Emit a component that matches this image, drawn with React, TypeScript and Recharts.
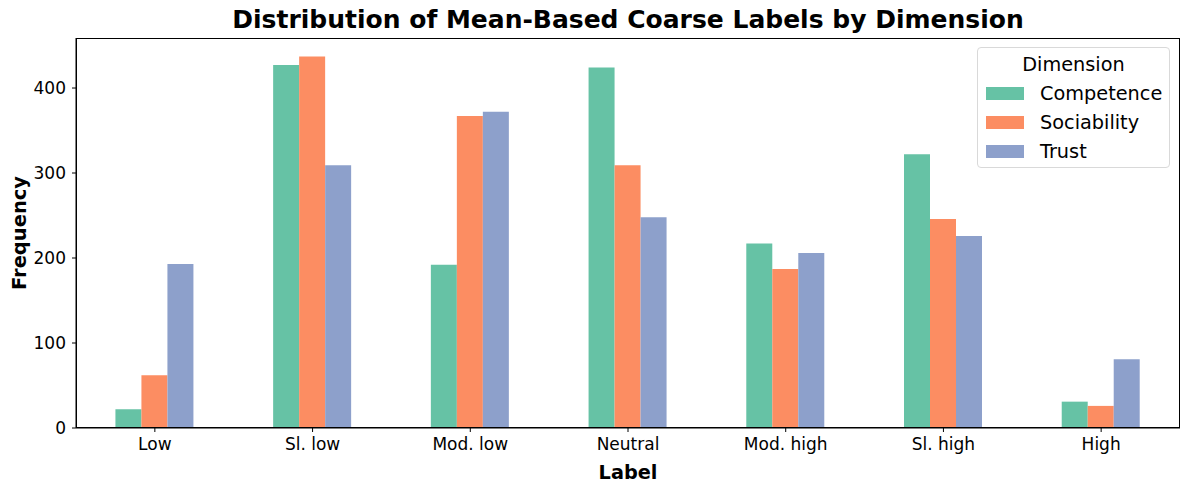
import React from "react";
import { BarChart, Bar, XAxis, YAxis } from "recharts";

const labels = ["Low", "Sl. low", "Mod. low", "Neutral", "Mod. high", "Sl. high", "High"];
const competence = [22, 427, 192, 424, 217, 322, 31];
const sociability = [62, 437, 367, 309, 187, 246, 26];
const trust = [193, 309, 372, 248, 206, 226, 81];
const yTicks = [0, 100, 200, 300, 400];

const SERIES = [
  { key: "Competence", color: "#66c2a5" },
  { key: "Sociability", color: "#fc8d62" },
  { key: "Trust", color: "#8da0cb" },
];

const data = labels.map((name, i) => ({
  name,
  Competence: competence[i],
  Sociability: sociability[i],
  Trust: trust[i],
}));

const FONT = "'DejaVu Sans', sans-serif";
const yMax = Math.max(...competence, ...sociability, ...trust) * 1.05;

// plot area in page pixels
const PLOT = { left: 76, top: 38, right: 1180, bottom: 428 };

function LegendBox() {
  return (
    <div
      style={{
        position: "absolute",
        left: 977,
        top: 47,
        width: 193,
        height: 121,
        border: "1px solid #d9d9d9",
        borderRadius: 4,
        background: "rgba(255,255,255,0.8)",
        fontFamily: FONT,
        boxSizing: "border-box",
        paddingTop: 4,
      }}
    >
      <div style={{ textAlign: "center", fontSize: 19.3, color: "#000", height: 27, lineHeight: "26px" }}>Dimension</div>
      {SERIES.map((s) => (
        <div key={s.key} style={{ display: "flex", alignItems: "center", height: 29, paddingLeft: 8 }}>
          <span style={{ width: 38, height: 13, background: s.color, display: "inline-block", marginRight: 16, flex: "none" }} />
          <span style={{ fontSize: 19.3, color: "#000", lineHeight: "29px" }}>{s.key}</span>
        </div>
      ))}
    </div>
  );
}

export default function App() {
  return (
    <div style={{ position: "absolute", left: 0, top: 0, width: 1189, height: 490, background: "#fff" }}>
      <div
        style={{
          position: "absolute",
          left: PLOT.left,
          width: PLOT.right - PLOT.left,
          top: 5,
          textAlign: "center",
          fontFamily: FONT,
          fontWeight: "bold",
          fontSize: 25,
          lineHeight: "30px",
          color: "#000",
        }}
      >
        Distribution of Mean-Based Coarse Labels by Dimension
      </div>
      <BarChart
        width={1189}
        height={490}
        data={data}
        margin={{ top: PLOT.top, right: 1189 - PLOT.right, left: 0, bottom: 0 }}
        barCategoryGap="25%"
        barGap={0}
      >
        <XAxis
          dataKey="name"
          height={490 - PLOT.bottom}
          tick={{ fontFamily: FONT, fontSize: 17, fill: "#000" }}
          tickLine={{ stroke: "#000" }}
          axisLine={{ stroke: "#000" }}
          tickSize={4}
          tickMargin={6}
          label={{
            value: "Label",
            position: "insideBottom",
            offset: 11,
            style: { fontFamily: FONT, fontSize: 19.3, fontWeight: "bold", fill: "#000" },
          }}
        />
        <YAxis
          width={PLOT.left}
          domain={[0, yMax]}
          ticks={yTicks}
          allowDataOverflow
          tick={{ fontFamily: FONT, fontSize: 17, fill: "#000" }}
          tickLine={{ stroke: "#000" }}
          axisLine={{ stroke: "#000" }}
          tickSize={4}
          tickMargin={6}
          label={{
            value: "Frequency",
            angle: -90,
            position: "insideLeft",
            offset: 19,
            style: { fontFamily: FONT, fontSize: 19.5, fontWeight: "bold", fill: "#000", textAnchor: "middle" },
          }}
        />
        {SERIES.map((s) => (
          <Bar key={s.key} dataKey={s.key} fill={s.color} isAnimationActive={false} />
        ))}
      </BarChart>
      <div
        style={{
          position: "absolute",
          left: PLOT.left,
          top: PLOT.top,
          width: PLOT.right - PLOT.left,
          height: PLOT.bottom - PLOT.top,
          border: "1px solid #000",
          boxSizing: "border-box",
          pointerEvents: "none",
        }}
      />
      <LegendBox />
    </div>
  );
}
